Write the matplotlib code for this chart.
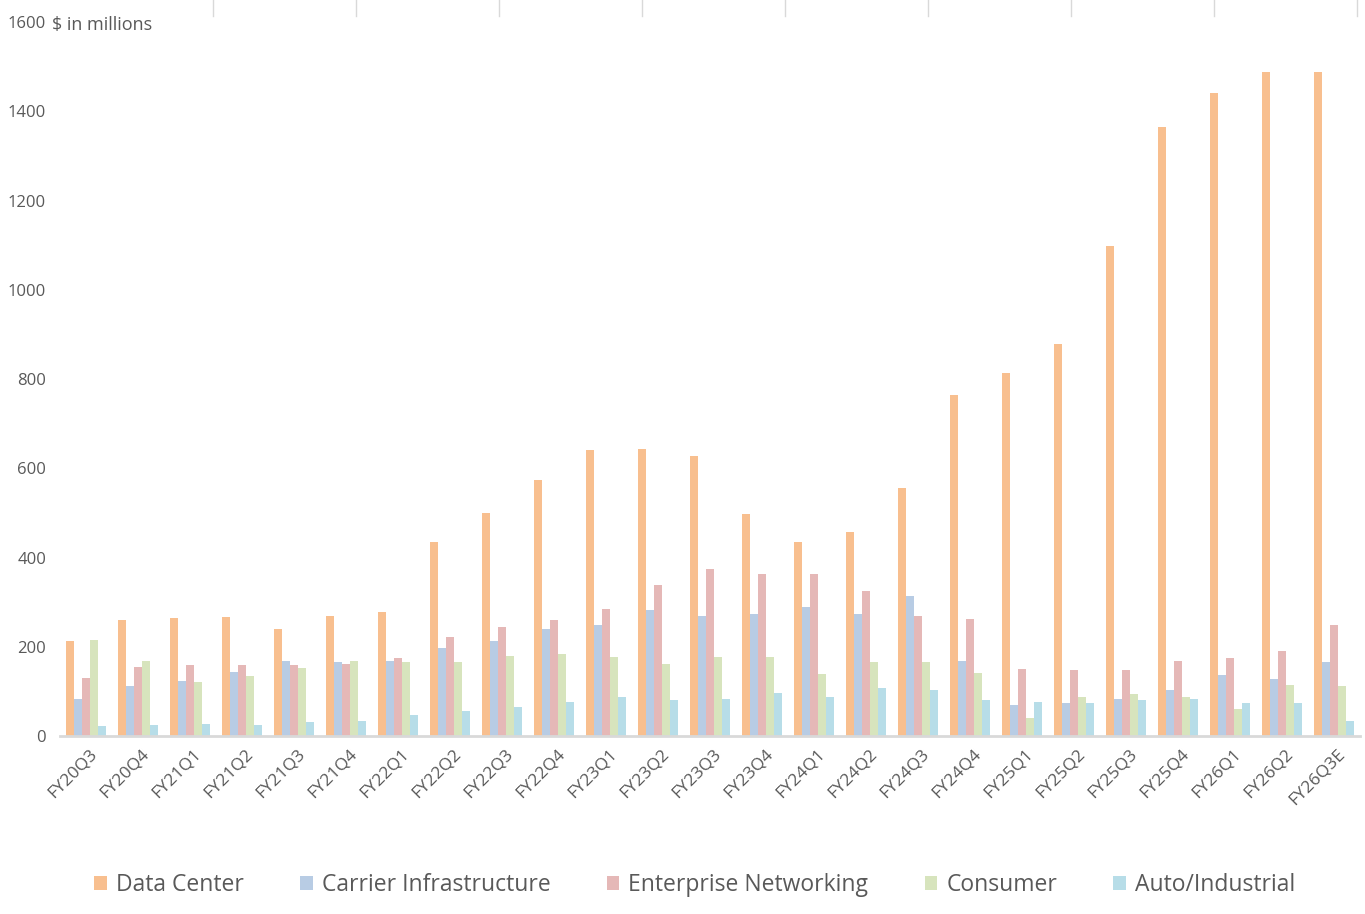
import numpy as np
import matplotlib
matplotlib.use("Agg")
import matplotlib.pyplot as plt
from matplotlib.lines import Line2D

quarters = ["FY20Q3", "FY20Q4", "FY21Q1", "FY21Q2", "FY21Q3", "FY21Q4",
            "FY22Q1", "FY22Q2", "FY22Q3", "FY22Q4", "FY23Q1", "FY23Q2",
            "FY23Q3", "FY23Q4", "FY24Q1", "FY24Q2", "FY24Q3", "FY24Q4",
            "FY25Q1", "FY25Q2", "FY25Q3", "FY25Q4", "FY26Q1", "FY26Q2",
            "FY26Q3E"]

data_center = [212, 260, 264, 267, 240, 269, 278, 435, 499, 573, 640, 643,
               627, 497, 434, 458, 555, 765, 814, 879, 1099, 1365, 1440,
               1489, 1489]
carrier = [82, 112, 123, 143, 168, 166, 168, 197, 213, 240, 249, 283,
           270, 274, 288, 274, 314, 168, 70, 74, 83, 103, 137, 128, 166]
enterprise = [130, 154, 159, 159, 159, 161, 175, 221, 245, 260, 285, 339,
              375, 364, 364, 326, 270, 262, 150, 148, 148, 168, 175, 191, 249]
consumer = [215, 168, 121, 134, 152, 168, 166, 165, 180, 184, 178, 162,
            178, 178, 140, 166, 166, 141, 40, 87, 94, 87, 61, 115, 113]
auto_industrial = [22, 24, 26, 24, 31, 33, 46, 57, 65, 76, 88, 81,
                   83, 97, 88, 108, 103, 81, 76, 74, 81, 83, 74, 74, 34]

series = [
    ("Data Center", data_center, "#F8BF8F"),
    ("Carrier Infrastructure", carrier, "#B8CCE4"),
    ("Enterprise Networking", enterprise, "#E5B8B7"),
    ("Consumer", consumer, "#D7E4BD"),
    ("Auto/Industrial", auto_industrial, "#B7DDE8"),
]

plt.rcParams["font.family"] = ["Open Sans", "DejaVu Sans"]
text_color = "#595959"

fig = plt.figure(figsize=(13.65, 9.14), dpi=100)
ax = fig.add_axes([60 / 1365, 178 / 914, 1300 / 1365, 714 / 914])

x = np.arange(len(quarters))
width = 0.154
for i, (name, vals, color) in enumerate(series):
    ax.bar(x + (i - 2) * width, vals, width, color=color, label=name,
           linewidth=0)

ax.set_xlim(-0.5, len(quarters) - 0.5)
ax.set_ylim(0, 1600)
ax.set_yticks(np.arange(0, 1601, 200))
ax.tick_params(axis="y", length=0, labelsize=12, labelcolor=text_color, pad=10)
ax.tick_params(axis="x", length=0, labelsize=12.5, labelcolor=text_color, pad=7)
ax.set_xticks(x + 0.05)
ax.set_xticklabels(quarters, rotation=45, ha="right", rotation_mode="anchor")

for side in ["top", "right", "left"]:
    ax.spines[side].set_visible(False)
ax.spines["bottom"].set_color("#D9D9D9")
ax.spines["bottom"].set_linewidth(2)

fig.text(52 / 1365, 1 - 25 / 914, "$ in millions", fontsize=13,
         color=text_color, va="center", ha="left")

# short marks along the top edge
for px in np.arange(213, 1365, 143):
    fig.add_artist(Line2D([px / 1365, px / 1365], [1, 1 - 16 / 914],
                          color="#D9D9D9", linewidth=1))

leg = fig.legend(loc="center", bbox_to_anchor=(0.509, 1 - 885 / 914), ncol=5,
                 frameon=False, fontsize=16.5, handlelength=0.55,
                 handleheight=0.55, handletextpad=0.4, columnspacing=2.45)
for t in leg.get_texts():
    t.set_color(text_color)

fig.savefig("out.png", dpi=100)
